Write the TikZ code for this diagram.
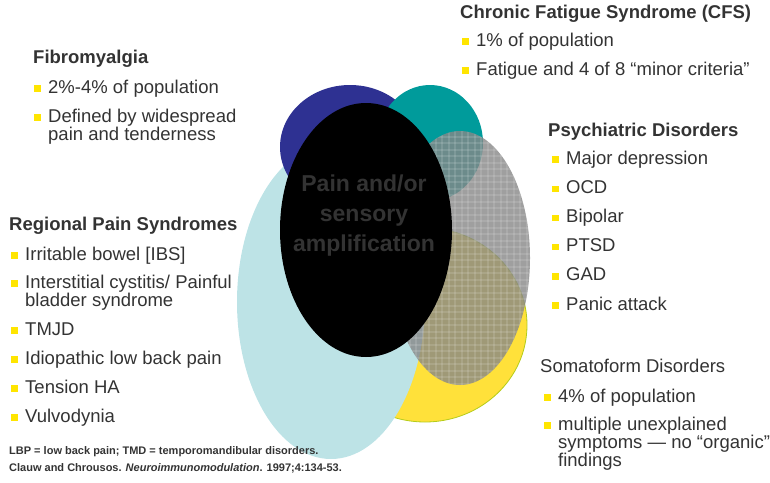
\documentclass[tikz,border=0pt]{standalone}
\usepackage{fontspec}
\setmainfont{Liberation Sans}
\begin{document}
\begin{tikzpicture}[x=1pt,y=-1pt,
  txt/.style={anchor=base west,inner sep=0pt,text=txtgray,font=\fontsize{18.5}{18}\selectfont,align=left},
  ttl/.style={txt,font=\fontsize{18.5}{18}\selectfont\bfseries},
  bul/.style={anchor=south west,inner sep=0pt,minimum size=6.5pt,fill=bulyellow},
  note/.style={anchor=base west,inner sep=0pt,text=txtgray,font=\fontsize{11}{12}\selectfont\bfseries}]
\definecolor{txtgray}{HTML}{333333}
\definecolor{bulyellow}{HTML}{FFE500}
\definecolor{cblue}{HTML}{2E3192}
\definecolor{cteal}{HTML}{009B9B}
\definecolor{clight}{HTML}{BDE3E6}
\definecolor{cyel}{HTML}{FFE13A}
\definecolor{cyelline}{HTML}{B5CC18}
\definecolor{cgray}{HTML}{878787}
\definecolor{intxt}{HTML}{333333}
\useasboundingbox (0,0) rectangle (770,482);
% ellipses
\fill[cyel,draw=cyelline,line width=0.8pt] (425,325) ellipse [x radius=102,y radius=97];
\fill[clight] (331,302) ellipse [x radius=94,y radius=157];
\fill[cblue] (350,147) ellipse [x radius=70,y radius=62];
\fill[cteal] (430,143) ellipse [x radius=53,y radius=58];
\begin{scope}
  \clip (460,258) ellipse [x radius=70,y radius=127];
  \fill[cgray,opacity=0.8] (390,130) rectangle (532,387);
  \foreach \k in {0,...,22} {
    \draw[white,opacity=0.12,line width=2pt] (390+\k*6.5,130) -- ++(0,257);
  }
  \foreach \k in {0,...,40} {
    \draw[white,opacity=0.12,line width=2pt] (390,130+\k*6.5) -- ++(142,0);
  }
\end{scope}
\fill[black] (366,230) ellipse [x radius=86,y radius=127];
\node[inner sep=0pt,align=center,text=intxt,font=\fontsize{23}{30}\selectfont\bfseries,anchor=base] (core) at (364,251) {Pain and/or\\sensory\\amplification};
% Fibromyalgia
\node[ttl] (fibt) at (33,63) {Fibromyalgia};
\node[bul] (fb1) at (34,92) {};
\node[txt] (fi1) at (48,93) {2\%-4\% of population};
\node[bul] (fb2) at (34,121) {};
\node[txt] (fi2) at (48,140) {Defined by widespread\\pain and tenderness};
% CFS
\node[ttl] (cfst) at (460,18) {Chronic Fatigue Syndrome (CFS)};
\node[bul] (cb1) at (462,45) {};
\node[txt] (ci1) at (476,46) {1\% of population};
\node[bul] (cb2) at (462,74) {};
\node[txt] (ci2) at (476,75) {Fatigue and 4 of 8 “minor criteria”};
% Psychiatric
\node[ttl] (psyt) at (548,136) {Psychiatric Disorders};
\foreach \n/\t [count=\i from 0] in {p1/Major depression,p2/OCD,p3/Bipolar,p4/PTSD,p5/GAD,p6/Panic attack} {
  \node[bul] (b\n) at (552,163+\i*29.2) {};
  \node[txt] (\n) at (566,164+\i*29.2) {\t};
}
% Somatoform
\node[txt] (somt) at (540,372) {Somatoform Disorders};
\node[bul] (sb1) at (544,401) {};
\node[txt] (si1) at (558,402) {4\% of population};
\node[bul] (sb2) at (544,429) {};
\node[txt] (si2) at (558,466) {multiple unexplained\\symptoms — no “organic”\\findings};
% Regional
\node[ttl] (regt) at (9,230) {Regional Pain Syndromes};
\node[bul] (rb1) at (11,259) {};
\node[txt] (r1) at (25,260) {Irritable bowel [IBS]};
\node[bul] (rb2) at (11,287) {};
\node[txt] (r2) at (25,306) {Interstitial cystitis/ Painful\\bladder syndrome};
\foreach \n/\t [count=\i from 0] in {r3/TMJD,r4/Idiopathic low back pain,r5/Tension HA,r6/Vulvodynia} {
  \node[bul] (b\n) at (11,334+\i*29) {};
  \node[txt] (\n) at (25,335+\i*29) {\t};
}
% footnote
\node[note] (n1) at (9,454) {LBP = low back pain; TMD = temporomandibular disorders.};
\node[note] (n2) at (9,471) {Clauw and Chrousos. \textit{Neuroimmunomodulation}. 1997;4:134-53.};
\end{tikzpicture}
\end{document}
